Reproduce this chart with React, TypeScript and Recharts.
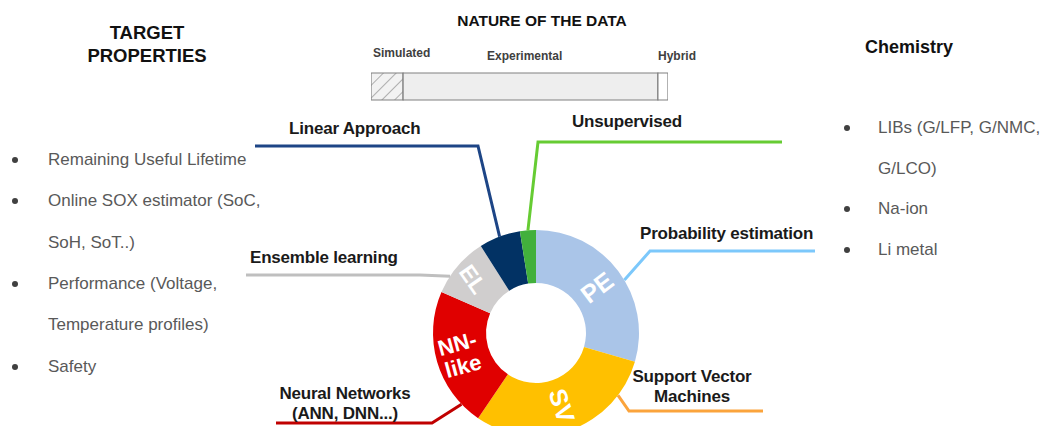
import React from 'react';
import { PieChart, Pie, Cell, BarChart, Bar, XAxis, YAxis } from 'recharts';

// donut: ML approach families
const methodKeys = ['PE', 'SV', 'NN', 'EL', 'LIN', 'UNS'];
const methodShares = [29.5, 30, 22, 9.5, 6.5, 2.5];
const methodTitles = [
  ['Probability estimation'],
  ['Support Vector', 'Machines'],
  ['Neural Networks', '(ANN, DNN...)'],
  ['Ensemble learning'],
  ['Linear Approach'],
  ['Unsupervised'],
];
const methodShort = [['PE'], ['SV'], ['NN-', 'like'], ['EL'], [], []];

// nature of the data bar
const dataKinds = ['Simulated', 'Experimental', 'Hybrid'];
const dataShares = [10.8, 85.8, 3.4];

const targetItems = [
  ['Remaining Useful Lifetime'],
  ['Online SOX estimator (SoC,', 'SoH, SoT..)'],
  ['Performance (Voltage,', 'Temperature profiles)'],
  ['Safety'],
];
const chemistryItems = [['LIBs (G/LFP, G/NMC,', 'G/LCO)'], ['Na-ion'], ['Li metal']];

const sliceColors = ['#aac5e8', '#ffc000', '#e00000', '#d0cece', '#023264', '#42b03c'];
const leaderColors = ['#7cc8fb', '#fba43c', '#c00000', '#bfbfbf', '#1d4586', '#66cc33'];

// leader line routing / label placement
const leaders = [
  { off: -6, elbow: [650, 251], end: [815, 251], tx: 640, ty: 233, anchor: 'start' },
  { off: 33, elbow: [629, 411], end: [763, 411], tx: 692, ty: 376, anchor: 'middle' },
  { off: 27.5, elbow: [432, 423], end: [276, 423], tx: 345, ty: 393, anchor: 'middle' },
  { off: 7, elbow: [420, 275], end: [246, 275], tx: 250, ty: 257, anchor: 'start' },
  { off: 0, elbow: [478, 146], end: [255, 146], tx: 289, ty: 128, anchor: 'start' },
  { off: 0, elbow: [538, 142], end: [782, 142], tx: 572, ty: 121, anchor: 'start' },
];
const inner = [
  { r: 76, rot: -37, size: 25 },
  { r: 77, rot: 72, size: 25 },
  { r: 79, rot: -15, size: 22 },
  { r: 83, rot: 55, size: 23 },
  { r: 76, rot: 0, size: 20 },
  { r: 76, rot: 0, size: 20 },
];

const RAD = Math.PI / 180;
const FONT = '"Liberation Sans", Arial, sans-serif';

const pieData = methodKeys.map((k, i) => ({ key: k, value: methodShares[i] }));
const barRow = [dataKinds.reduce((o: any, k, i) => ({ ...o, [k]: dataShares[i] }), { row: 'data' })];

const renderLabel = (props: any) => {
  const { cx, cy, midAngle, outerRadius, index } = props;
  const L = leaders[index];
  const a = (midAngle + L.off) * RAD;
  const ax = cx + outerRadius * Math.cos(-a);
  const ay = cy + outerRadius * Math.sin(-a);
  const inn = inner[index];
  const ix = cx + inn.r * Math.cos(-midAngle * RAD);
  const iy = cy + inn.r * Math.sin(-midAngle * RAD);
  const short = methodShort[index];
  return (
    <g key={`lbl-${index}`}>
      <polyline
        points={`${ax},${ay} ${L.elbow[0]},${L.elbow[1]} ${L.end[0]},${L.end[1]}`}
        fill="none"
        stroke={leaderColors[index]}
        strokeWidth={3}
      />
      {methodTitles[index].map((t, j) => (
        <text
          key={j}
          x={L.tx}
          y={L.ty + j * 20}
          textAnchor={L.anchor as any}
          dominantBaseline="central"
          fontFamily={FONT}
          fontWeight="bold"
          fontSize={17}
          letterSpacing={-0.2}
          fill="#1a1a1a"
        >
          {t}
        </text>
      ))}
      {short.length > 0 && (
        <g transform={`translate(${ix},${iy}) rotate(${inn.rot})`}>
          {short.map((t, j) => (
            <text
              key={j}
              x={0}
              y={(j - (short.length - 1) / 2) * (inn.size + 1)}
              textAnchor="middle"
              dominantBaseline="central"
              fontFamily={FONT}
              fontWeight="bold"
              fontSize={inn.size}
              fill="#ffffff"
            >
              {t}
            </text>
          ))}
        </g>
      )}
    </g>
  );
};

const abs = (left: number, top: number, extra: React.CSSProperties = {}): React.CSSProperties => ({
  position: 'absolute',
  left,
  top,
  whiteSpace: 'nowrap',
  fontFamily: FONT,
  ...extra,
});

function BulletList({ items, left, top, dotX, gap, size }: any) {
  const rows: any[] = [];
  let y = top;
  items.forEach((lines: string[], i: number) => {
    lines.forEach((ln, j) => {
      rows.push(
        <React.Fragment key={`${i}-${j}`}>
          {j === 0 && (
            <div style={abs(dotX - 3, y - 3, { width: 6, height: 6, borderRadius: 3, background: '#404040' })} />
          )}
          <div style={abs(left, y - size * 0.6, { fontSize: size, color: '#595959', lineHeight: `${size * 1.2}px` })}>
            {ln}
          </div>
        </React.Fragment>
      );
      y += gap;
    });
  });
  return <>{rows}</>;
}

export default function App() {
  return (
    <div style={{ position: 'absolute', left: 0, top: 0, width: 1043, height: 426, background: '#fff', overflow: 'hidden' }}>
      <PieChart width={1043} height={426} style={{ position: 'absolute', left: 0, top: 0 }}>
        <Pie
          data={pieData}
          dataKey="value"
          cx={531}
          cy={328}
          innerRadius={50}
          outerRadius={103}
          startAngle={90}
          endAngle={-270}
          stroke="none"
          label={renderLabel}
          labelLine={false}
          isAnimationActive={false}
        >
          {pieData.map((d, i) => (
            <Cell key={d.key} fill={sliceColors[i]} />
          ))}
        </Pie>
      </PieChart>

      {/* headings */}
      <div style={abs(0, 21, { width: 294, textAlign: 'center', fontSize: 18.5, fontWeight: 'bold', lineHeight: '23px', color: '#111' })}>
        TARGET
        <br />
        PROPERTIES
      </div>
      <div style={abs(441, 12, { width: 202, textAlign: 'center', fontSize: 15.5, fontWeight: 'bold', color: '#111' })}>
        NATURE OF THE DATA
      </div>
      <div style={abs(865, 37, { fontSize: 18, fontWeight: 'bold', color: '#111' })}>Chemistry</div>

      {/* data bar labels */}
      <div style={abs(373, 46, { fontSize: 12, fontWeight: 'bold', color: '#404040' })}>{dataKinds[0]}</div>
      <div style={abs(487, 49, { fontSize: 12, fontWeight: 'bold', color: '#404040' })}>{dataKinds[1]}</div>
      <div style={abs(658, 49, { fontSize: 12, fontWeight: 'bold', color: '#404040' })}>{dataKinds[2]}</div>

      <BarChart
        width={297}
        height={29}
        layout="vertical"
        data={barRow}
        margin={{ top: 0, right: 0, bottom: 0, left: 0 }}
        style={{ position: 'absolute', left: 371, top: 72 }}
      >
        <defs>
          <pattern id="hatch" width="9" height="9" patternUnits="userSpaceOnUse" patternTransform="rotate(45)">
            <rect width="9" height="9" fill="#f2f2f2" />
            <line x1="0" y1="0" x2="0" y2="9" stroke="#808080" strokeWidth="1.2" />
          </pattern>
        </defs>
        <XAxis type="number" domain={[0, 100]} hide />
        <YAxis type="category" dataKey="row" hide />
        <Bar dataKey={dataKinds[0]} stackId="a" fill="url(#hatch)" stroke="#808080" strokeWidth={1.2} barSize={27} isAnimationActive={false} />
        <Bar dataKey={dataKinds[1]} stackId="a" fill="#eeeeee" stroke="#808080" strokeWidth={1.2} barSize={27} isAnimationActive={false} />
        <Bar dataKey={dataKinds[2]} stackId="a" fill="#ffffff" stroke="#808080" strokeWidth={1.2} barSize={27} isAnimationActive={false} />
      </BarChart>

      <BulletList items={targetItems} left={48} top={160} dotX={15} gap={41.4} size={17} />
      <BulletList items={chemistryItems} left={878} top={128} dotX={847} gap={40.7} size={17} />
    </div>
  );
}
